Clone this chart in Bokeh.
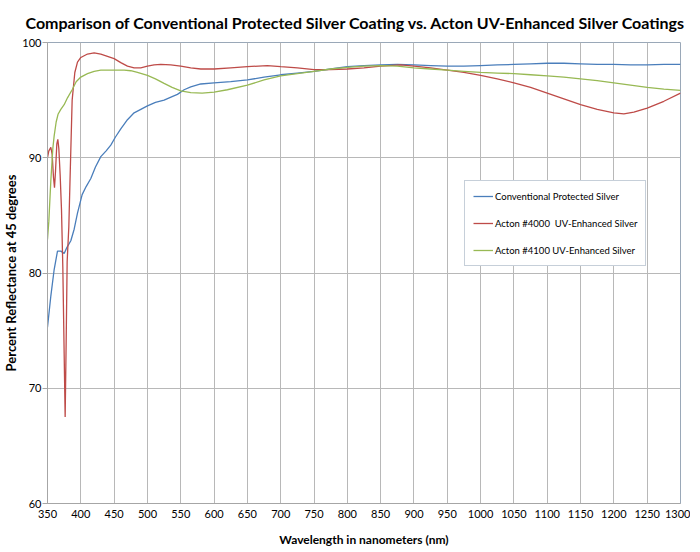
from bokeh.plotting import figure
from bokeh.models import Legend, LegendItem, Range1d, FixedTicker
from bokeh.embed import file_html
from bokeh.resources import INLINE

# ---- data ----
wl_conv = [350, 355, 360, 365, 370, 375, 379, 385, 390, 395, 402, 408, 415, 422, 430, 438,
           445, 452, 460, 470, 480, 490, 500, 512, 525, 537, 545, 555, 565, 580, 600, 625,
           650, 675, 700, 725, 750, 775, 800, 825, 850, 875, 900, 925, 950, 975, 1000, 1025,
           1050, 1075, 1100, 1125, 1150, 1175, 1200, 1225, 1250, 1275, 1300]
refl_conv = [75.3, 78.0, 80.3, 81.9, 81.9, 81.7, 82.2, 82.8, 83.8, 85.2, 86.8, 87.5, 88.2, 89.2, 90.1, 90.6,
             91.1, 91.8, 92.5, 93.3, 93.9, 94.2, 94.5, 94.8, 95.0, 95.3, 95.5, 95.9, 96.15, 96.4, 96.5, 96.6,
             96.75, 97.0, 97.2, 97.35, 97.5, 97.7, 97.9, 98.0, 98.05, 98.1, 98.05, 98.0, 97.95, 97.95, 98.0, 98.05,
             98.1, 98.15, 98.2, 98.2, 98.15, 98.1, 98.1, 98.05, 98.05, 98.1, 98.1]

wl_4000 = [350, 352, 355, 357, 359, 360.5, 362, 364, 365.5, 367, 369, 371, 373, 375, 376.5, 378,
           379.5, 382, 384, 387, 391, 395, 400, 410, 420, 430, 440, 450, 460, 470, 480, 490,
           500, 510, 520, 535, 550, 565, 580, 600, 625, 650, 680, 700, 725, 750, 775, 800,
           825, 850, 880, 900, 925, 950, 975, 1000, 1025, 1050, 1075, 1100, 1125, 1150, 1175,
           1200, 1215, 1230, 1250, 1275, 1300]
refl_4000 = [90.0, 90.6, 90.9, 90.3, 88.3, 87.4, 88.8, 91.2, 91.6, 90.8, 88.5, 85.5, 80.5, 73.0, 67.5, 74.0,
             81.0, 84.0, 88.5, 95.0, 97.4, 98.3, 98.7, 99.0, 99.1, 99.0, 98.8, 98.6, 98.25, 97.95, 97.8, 97.8,
             97.95, 98.05, 98.1, 98.05, 97.95, 97.8, 97.7, 97.7, 97.8, 97.9, 98.0, 97.9, 97.8, 97.65, 97.65, 97.7,
             97.8, 97.95, 98.05, 97.95, 97.8, 97.6, 97.4, 97.15, 96.85, 96.5, 96.1, 95.6, 95.1, 94.6, 94.2,
             93.9, 93.8, 93.95, 94.3, 94.9, 95.6]

wl_4100 = [350, 352, 355, 358, 360, 363, 366, 370, 375, 380, 387, 393, 400, 410, 420, 430,
           450, 465, 475, 485, 500, 512, 525, 537, 550, 565, 582, 600, 620, 650, 675, 700,
           725, 750, 775, 800, 825, 850, 875, 900, 925, 950, 975, 1000, 1025, 1050, 1075, 1100,
           1125, 1150, 1175, 1200, 1225, 1250, 1275, 1300]
refl_4100 = [82.9, 84.5, 88.0, 90.8, 91.9, 93.1, 93.8, 94.2, 94.6, 95.2, 95.9, 96.6, 97.0, 97.3, 97.5, 97.6,
             97.6, 97.6, 97.55, 97.4, 97.15, 96.85, 96.45, 96.1, 95.8, 95.65, 95.6, 95.7, 95.9, 96.3, 96.75, 97.1,
             97.3, 97.5, 97.7, 97.85, 97.95, 98.0, 97.95, 97.8, 97.7, 97.6, 97.5, 97.4, 97.35, 97.3, 97.2, 97.1,
             97.0, 96.85, 96.7, 96.5, 96.3, 96.1, 95.95, 95.85]

series_names = ["Conventional Protected Silver",
                "Acton #4000  UV-Enhanced Silver",
                "Acton #4100 UV-Enhanced Silver"]
x_ticks = list(range(350, 1301, 50))
y_ticks = [60, 70, 80, 90, 100]

title_text = "Comparison of Conventional Protected Silver Coating vs. Acton UV-Enhanced Silver Coatings"
x_label = "Wavelength in nanometers (nm)"
y_label = "Percent Reflectance at 45 degrees"

# ---- figure ----
p = figure(frame_width=633, frame_height=461, output_backend="svg", toolbar_location=None,
           x_range=Range1d(350, 1300), y_range=Range1d(60, 100),
           min_border_left=39, min_border_right=10, min_border_top=42, min_border_bottom=40)

p.title.text = title_text
p.title.align = "left"
p.title.offset = -22
p.title.vertical_align = "bottom"
p.title.text_font = "Lato"
p.title.text_font_style = "bold"
p.title.text_font_size = "16px"
p.title.text_color = "#000000"
p.title.standoff = 21

p.outline_line_color = "#9AA8B8"
p.outline_line_width = 1

for ax in (p.xaxis[0], p.yaxis[0]):
    ax.axis_line_color = "#A6A6A6"
    ax.major_label_text_font = "Lato"
    ax.major_label_text_font_size = "11px"
    ax.major_label_text_color = "#000000"
    ax.minor_tick_line_color = None
    ax.minor_tick_out = 0
    ax.minor_tick_in = 0
    ax.axis_label_text_font = "Lato"
    ax.axis_label_text_font_style = "bold"
    ax.axis_label_text_color = "#000000"

p.xaxis.axis_label_text_font_size = "12px"
p.yaxis.axis_label_text_font_size = "13px"

p.xaxis.ticker = FixedTicker(ticks=x_ticks)
p.yaxis.ticker = FixedTicker(ticks=y_ticks)
p.xaxis.major_tick_line_color = None
p.xaxis.major_tick_out = 0
p.xaxis.major_tick_in = 0
p.xaxis.major_label_standoff = 6
p.yaxis.major_tick_line_color = "#A6A6A6"
p.yaxis.major_tick_out = 5
p.yaxis.major_tick_in = 0
p.yaxis.major_label_standoff = 1
p.xaxis.axis_label = x_label
p.yaxis.axis_label = y_label
p.xaxis.axis_label_standoff = 11
p.yaxis.axis_label_standoff = 0

p.xgrid.ticker = FixedTicker(ticks=x_ticks)
p.ygrid.ticker = FixedTicker(ticks=y_ticks)
p.xgrid.grid_line_color = "#B8B8B8"
p.ygrid.grid_line_color = "#B8B8B8"

colors = ["#4A7EBB", "#BE4B48", "#98B954"]
r1 = p.line(wl_conv, refl_conv, line_color=colors[0], line_width=1.3)
r2 = p.line(wl_4000, refl_4000, line_color=colors[1], line_width=1.3)
r3 = p.line(wl_4100, refl_4100, line_color=colors[2], line_width=1.3)

legend = Legend(items=[LegendItem(label=series_names[0], renderers=[r1]),
                       LegendItem(label=series_names[1], renderers=[r2]),
                       LegendItem(label=series_names[2], renderers=[r3])],
                location=(417, 237))
legend.label_text_font = "Lato"
legend.label_text_font_size = "9.5px"
legend.label_text_color = "#000000"
legend.glyph_width = 20
legend.glyph_height = 14
legend.label_height = 14
legend.label_width = 134
legend.label_standoff = 2
legend.spacing = 13
legend.padding = 8
legend.margin = 0
legend.border_line_color = "#8DA0B3"
legend.border_line_width = 1
legend.background_fill_color = "white"
legend.background_fill_alpha = 1
p.add_layout(legend, "center")

open("out.html", "w").write(file_html(p, INLINE))
